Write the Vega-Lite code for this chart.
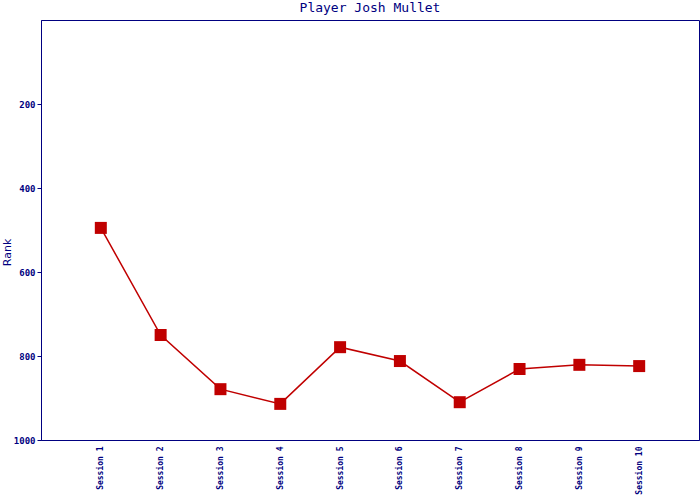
{
  "$schema": "https://vega.github.io/schema/vega-lite/v6.json",
  "width": 658,
  "height": 420,
  "autosize": {"type": "none"},
  "padding": {"left": 41, "top": 20, "right": 1, "bottom": 60},
  "background": "white",
  "title": {"text": "Player Josh Mullet", "font": "DejaVu Sans Mono", "fontSize": 13, "fontWeight": "normal", "color": "#000080", "anchor": "middle", "offset": 5},
  "config": {
    "view": {"stroke": "#000080", "strokeWidth": 1},
    "axis": {"grid": false, "domainColor": "#000080", "tickColor": "#000080", "labelColor": "#000080", "titleColor": "#000080", "labelFont": "DejaVu Sans Mono", "titleFont": "DejaVu Sans", "domainWidth": 1}
  },
  "data": {"values": [
    {"session": "Session 1", "rank": 495},
    {"session": "Session 2", "rank": 750},
    {"session": "Session 3", "rank": 879},
    {"session": "Session 4", "rank": 914},
    {"session": "Session 5", "rank": 779},
    {"session": "Session 6", "rank": 812},
    {"session": "Session 7", "rank": 910},
    {"session": "Session 8", "rank": 831},
    {"session": "Session 9", "rank": 821},
    {"session": "Session 10", "rank": 824}
  ]},
  "encoding": {
    "x": {"field": "session", "type": "ordinal", "sort": null, "scale": {"type": "point", "padding": 1},
      "axis": {"title": null, "labelAngle": -90, "ticks": false, "labelFontSize": 8, "labelPadding": 6, "labelFontWeight": "bold"}},
    "y": {"field": "rank", "type": "quantitative", "scale": {"domain": [0, 1000], "reverse": true, "nice": false},
      "axis": {"title": "Rank", "format": "d", "values": [200, 400, 600, 800, 1000], "labelFontSize": 9, "labelFontWeight": "bold", "tickSize": 4, "labelPadding": 2, "titleFontSize": 11, "titleFontWeight": "normal", "titleX": -29, "titleY": 232, "titleAngle": -90, "titleBaseline": "bottom", "titleAlign": "center"}}
  },
  "layer": [
    {"mark": {"type": "line", "color": "#c00000", "strokeWidth": 1.5}},
    {"mark": {"type": "square", "color": "#c00000", "filled": true, "opacity": 1, "size": 144}}
  ]
}
